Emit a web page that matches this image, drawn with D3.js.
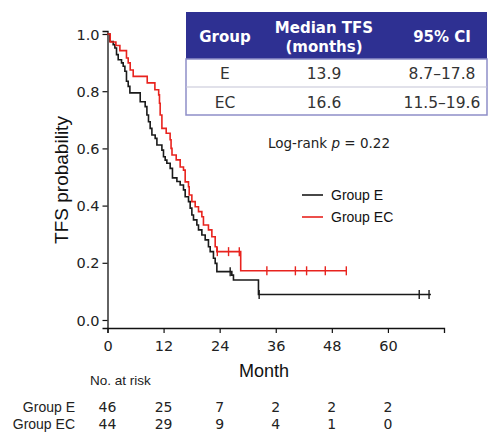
<!DOCTYPE html>
<html><head><meta charset="utf-8">
<script src="https://cdn.jsdelivr.net/npm/d3@7"></script>
<style>body{margin:0;background:#fff}svg{display:block}</style>
</head><body><svg id="c" width="492" height="435"></svg>
<script>
// ---- data ----
const timesE = [0.51,1.22,1.58,1.93,2.29,3.0,3.36,3.72,4.06,4.43,4.79,7.0,8.06,8.43,8.77,9.13,9.5,10.2,10.57,11.64,11.98,12.34,12.7,13.41,13.9,14.85,15.55,16.26,16.62,17.33,17.69,18.05,18.4,19.12,19.47,20.19,20.9,21.6,21.97,22.67,23.04,23.4,26.6,26.95,32.3];
const survE  = [0.974,0.963,0.951,0.928,0.910,0.899,0.887,0.870,0.835,0.817,0.794,0.763,0.746,0.717,0.693,0.670,0.647,0.635,0.612,0.594,0.571,0.559,0.548,0.530,0.497,0.484,0.472,0.455,0.431,0.414,0.391,0.367,0.350,0.332,0.315,0.297,0.280,0.256,0.239,0.216,0.198,0.169,0.157,0.140,0.089];
const censorE = [26.25,32.45,66.7,68.8];
const endE = 69.2;
const timesEC = [0.58,1.8,2.65,4.06,4.43,4.86,5.5,8.5,10.14,10.95,11.12,11.27,11.64,12.56,13.4,13.6,13.8,14.7,15.55,16.26,16.62,17.33,17.48,18.05,18.76,19.47,20.19,20.53,21.6,22.33,23.04,23.4,28.5];
const survEC  = [0.972,0.96,0.942,0.916,0.899,0.874,0.852,0.829,0.805,0.787,0.758,0.717,0.670,0.653,0.63,0.60,0.577,0.56,0.535,0.524,0.483,0.466,0.437,0.414,0.396,0.379,0.361,0.332,0.315,0.291,0.256,0.239,0.172];
const censorEC = [23.5,25.9,28.2,34.1,40.2,42.6,46.6,51.1];
const endEC = 51.1;
const xTicks = [0,12,24,36,48,60];
const yTicks = [0,0.2,0.4,0.6,0.8,1.0];
const riskGroups = ["Group E","Group EC"];
const riskE  = [46,25,7,2,2,2];
const riskEC = [44,29,9,4,1,0];
const tableHeader = ["Group",["Median TFS","(months)"],"95% CI"];
const tableGroups = ["E","EC"];
const tableMedian = ["13.9","16.6"];
const tableCI = ["8.7\u201317.8","11.5\u201319.6"];
const colE = "#1a1a1a", colEC = "#e8231e";

const svg = d3.select("#c");
const x = d3.scaleLinear().domain([0,72]).range([107.5,444]);
const y = d3.scaleLinear().domain([-0.028,1.0105]).range([328,31]);

// axes
const gx = svg.append("g").attr("transform","translate(0,328)")
  .call(d3.axisBottom(x).tickValues(xTicks).tickSizeOuter(0).tickSize(5).tickPadding(8));
const gy = svg.append("g").attr("transform","translate(107.5,0)")
  .call(d3.axisLeft(y).tickValues(yTicks).tickFormat(d3.format(".1f")).tickSizeOuter(0).tickSize(5).tickPadding(3));
[gx,gy].forEach(g=>{
  g.select(".domain").attr("stroke","#111").attr("stroke-width",1.3);
  g.selectAll(".tick line").attr("stroke","#111").attr("stroke-width",1.2);
  g.selectAll(".tick text").attr("fill","#222").style("font-family","DejaVu Sans, Verdana, sans-serif").style("font-size","14.5px");
});
gy.selectAll(".tick text").attr("dy","0.35em");

svg.append("text").attr("transform","translate(68,180) rotate(-90)").attr("text-anchor","middle")
  .style("font-family","Liberation Sans, Arial, sans-serif").style("font-size","19px").attr("fill","#111").text("TFS probability");
svg.append("text").attr("x",264).attr("y",377).attr("text-anchor","middle")
  .style("font-family","Liberation Sans, Arial, sans-serif").style("font-size","18px").attr("fill","#111").text("Month");

// KM curves
function kmPoints(times, surv, end){
  const pts=[[0,1]]; let s=1;
  times.forEach((t,i)=>{pts.push([t,s]); s=surv[i]; pts.push([t,s]);});
  pts.push([end,s]);
  return pts;
}
function survAt(times, surv, t){
  let s=1; times.forEach((tt,i)=>{ if(tt<=t) s=surv[i]; }); return s;
}
const line = d3.line().x(d=>x(d[0])).y(d=>y(d[1]));
function drawKM(times, surv, cens, end, col){
  svg.append("path").datum(kmPoints(times,surv,end)).attr("d",line)
    .attr("fill","none").attr("stroke",col).attr("stroke-width",1.6);
  svg.append("g").selectAll("line").data(cens).join("line")
    .attr("x1",d=>x(d)).attr("x2",d=>x(d))
    .attr("y1",d=>y(survAt(times,surv,d))-4.5).attr("y2",d=>y(survAt(times,surv,d))+4.5)
    .attr("stroke",col).attr("stroke-width",1.4);
}
drawKM(timesE,survE,censorE,endE,colE);
drawKM(timesEC,survEC,censorEC,endEC,colEC);

// legend
const leg = [["Group E",colE,195],["Group EC",colEC,217]];
leg.forEach(([t,c,yy])=>{
  svg.append("line").attr("x1",302).attr("x2",323).attr("y1",yy).attr("y2",yy).attr("stroke",c).attr("stroke-width",1.6);
  svg.append("text").attr("x",331).attr("y",yy+5).style("font-family","Liberation Sans, Arial, sans-serif")
    .style("font-size","14px").attr("fill","#111").text(t);
});

// log-rank
const lr = svg.append("text").attr("x",268).attr("y",148).style("font-family","DejaVu Sans, Verdana, sans-serif")
  .style("font-size","13.5px").attr("fill","#222");
lr.append("tspan").text("Log-rank ");
lr.append("tspan").style("font-style","italic").text("p");
lr.append("tspan").text(" = 0.22");

// at risk
svg.append("text").attr("x",90).attr("y",385).style("font-family","Liberation Sans, Arial, sans-serif")
  .style("font-size","13.5px").attr("fill","#222").text("No. at risk");
[riskE,riskEC].forEach((arr,i)=>{
  const yy = 412 + i*17;
  svg.append("text").attr("x",75).attr("y",yy).attr("text-anchor","end")
    .style("font-family","Liberation Sans, Arial, sans-serif").style("font-size","14px").attr("fill","#222").text(riskGroups[i]);
  svg.append("g").selectAll("text").data(arr).join("text")
    .attr("x",(d,j)=>x(xTicks[j])).attr("y",yy).attr("text-anchor","middle")
    .style("font-family","DejaVu Sans, Verdana, sans-serif").style("font-size","14px").attr("fill","#222").text(d=>d);
});

// table
const tx0=186, tx1=487, ty0=12, tyH=59, ty1=87, ty2=115;
const colX=[225,324,442];
svg.append("rect").attr("x",tx0).attr("y",ty0).attr("width",tx1-tx0).attr("height",tyH-ty0).attr("fill","#2e3092");
svg.append("rect").attr("x",tx0).attr("y",tyH).attr("width",tx1-tx0).attr("height",ty2-tyH).attr("fill","#fff")
  .attr("stroke","#8e8ec8").attr("stroke-width",1.5);
svg.append("line").attr("x1",tx0).attr("x2",tx1).attr("y1",ty1).attr("y2",ty1).attr("stroke","#c4c4d6").attr("stroke-width",1.2);
const hf = {"font-family":"DejaVu Sans, Verdana, sans-serif","font-size":"15px","font-weight":"bold"};
function htext(xx,yy,t){const e=svg.append("text").attr("x",xx).attr("y",yy).attr("text-anchor","middle").attr("fill","#fff").text(t);
  Object.entries(hf).forEach(([k,v])=>e.style(k,v));}
htext(colX[0],42,tableHeader[0]);
htext(colX[1],33,tableHeader[1][0]);
htext(colX[1],52,tableHeader[1][1]);
htext(colX[2],42,tableHeader[2]);
tableGroups.forEach((g,i)=>{
  const yy = i===0?79:107.5;
  [g,tableMedian[i],tableCI[i]].forEach((t,j)=>{
    svg.append("text").attr("x",colX[j]).attr("y",yy).attr("text-anchor","middle")
      .style("font-family","DejaVu Sans, Verdana, sans-serif").style("font-size","15.5px").attr("fill","#333").text(t);
  });
});
</script></body></html>
